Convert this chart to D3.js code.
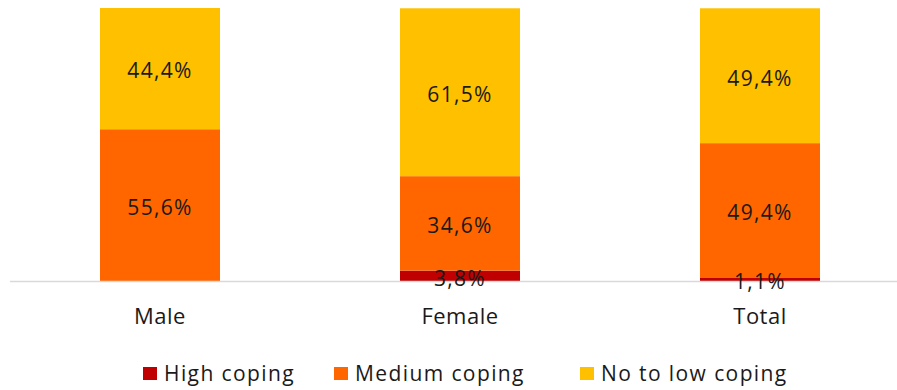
<!DOCTYPE html>
<html>
<head>
<meta charset="utf-8">
<script src="https://cdn.jsdelivr.net/npm/d3@7"></script>
<style>
  html, body { margin: 0; padding: 0; background: #fff; }
  svg text { font-family: "Open Sans", "Noto Sans", sans-serif; fill: #1a1a1a; }
</style>
</head>
<body>
<svg id="chart" width="897" height="390"></svg>
<script>
// Share of respondents per coping level, by group (percent)
const categories = ["Male", "Female", "Total"];
const seriesNames = ["High coping", "Medium coping", "No to low coping"];
const highCoping = [0, 3.8, 1.1];
const mediumCoping = [55.6, 34.6, 49.4];
const lowCoping = [44.4, 61.5, 49.4];
const seriesColors = ["#C00000", "#FF6600", "#FFC000"];

const svg = d3.select("#chart");
const plot = { left: 10, right: 897, top: 8, bottom: 281 };

const rows = categories.map((c, i) => ({
  category: c,
  "High coping": highCoping[i],
  "Medium coping": mediumCoping[i],
  "No to low coping": lowCoping[i]
}));

const layers = d3.stack().keys(seriesNames)(rows);

// Three equal slots of 300px, bars 40% of the slot
const x = d3.scaleBand().domain(categories)
  .range([plot.left, plot.left + 900]).paddingInner(0.6).paddingOuter(0.3);
const y = d3.scaleLinear().domain([0, 100]).range([plot.bottom, plot.top]);
const color = d3.scaleOrdinal().domain(seriesNames).range(seriesColors);
const fmt = v => d3.format(".1f")(v).replace(".", ",") + "%";

// Stacked segments
const g = svg.append("g");
layers.forEach(layer => {
  g.append("g").selectAll("rect")
    .data(layer.filter(d => d[1] - d[0] > 0))
    .join("rect")
    .attr("x", d => x(d.data.category))
    .attr("width", x.bandwidth())
    .attr("y", d => y(d[1]))
    .attr("height", d => y(d[0]) - y(d[1]))
    .attr("fill", color(layer.key));
});

// Baseline
svg.append("line")
  .attr("x1", plot.left).attr("x2", plot.right)
  .attr("y1", plot.bottom + 0.5).attr("y2", plot.bottom + 0.5)
  .attr("stroke", "#d9d9d9").attr("stroke-width", 1.5);

// Value labels centred in each segment
layers.forEach(layer => {
  svg.append("g").selectAll("text")
    .data(layer.filter(d => d[1] - d[0] > 0))
    .join("text")
    .attr("x", d => x(d.data.category) + x.bandwidth() / 2)
    .attr("y", d => (y(d[0]) + y(d[1])) / 2)
    .attr("dy", "0.47em")
    .attr("text-anchor", "middle")
    .attr("font-size", 21)
    .attr("letter-spacing", 1.3)
    .text(d => fmt(d[1] - d[0]));
});

// Category axis
const xAxis = svg.append("g")
  .attr("transform", `translate(0,${plot.bottom})`)
  .call(d3.axisBottom(x).tickSize(0).tickPadding(27));
xAxis.select(".domain").remove();
xAxis.selectAll("text")
  .attr("font-size", 22)
  .attr("letter-spacing", 0.5)
  .attr("fill", "#1a1a1a");

// Legend
const legendX = [143, 334, 580];
const legend = svg.append("g");
seriesNames.forEach((name, i) => {
  legend.append("rect")
    .attr("x", legendX[i]).attr("y", 367)
    .attr("width", 14).attr("height", 13)
    .attr("fill", seriesColors[i]);
  legend.append("text")
    .attr("x", legendX[i] + 21).attr("y", 381)
    .attr("font-size", 21)
    .attr("letter-spacing", 1.4)
    .text(name);
});
</script>
</body>
</html>
